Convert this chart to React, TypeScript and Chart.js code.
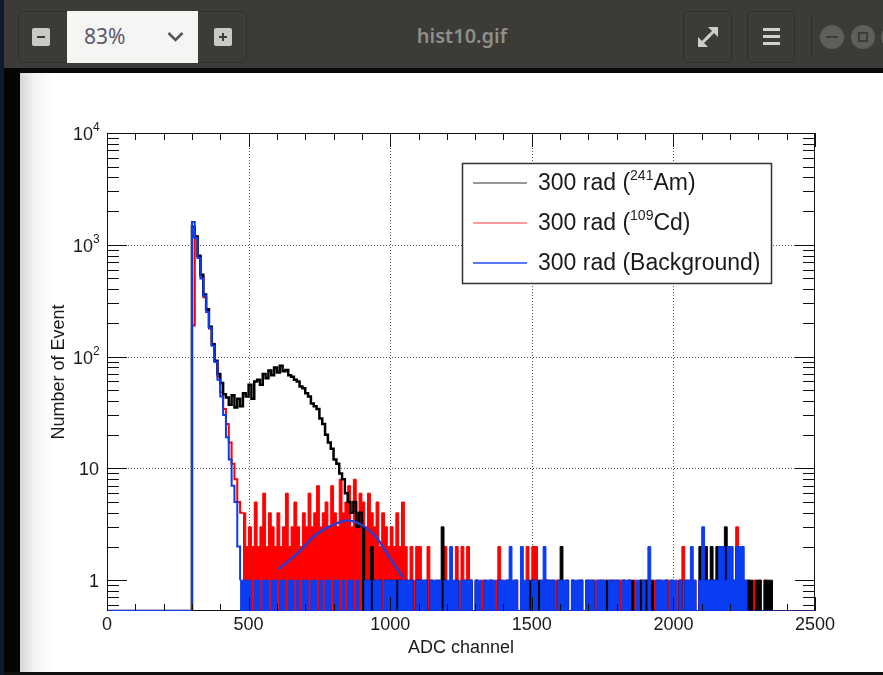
import React, { useEffect, useRef } from "react";
import { Chart, registerables } from "chart.js";

Chart.register(...registerables);

// ---------- axes ----------
const X_MIN = 0;
const X_MAX = 2500;
const Y_MIN = 0.53;
const Y_MAX = 10000;
const BIN_WIDTH = 10;

const X_TICKS = [0, 500, 1000, 1500, 2000, 2500];
const X_TICK_LABELS = ["0", "500", "1000", "1500", "2000", "2500"];
const X_GRID = [500, 1000, 1500, 2000];
const Y_DECADES = [1, 10, 100, 1000, 10000];
const Y_TICK_BASES = ["1", "10", "10", "10", "10"];
const Y_TICK_EXPONENTS = ["", "", "2", "3", "4"];
const Y_GRID = [10, 100, 1000];

const X_TITLE = "ADC channel";
const Y_TITLE = "Number of Event";
const LEGEND_PREFIX = "300 rad (";
const LEGEND_SUPERS = ["241", "109", ""];
const LEGEND_NAMES = ["Am)", "Cd)", "Background)"];

const COLOR_AM = "#000000";
const COLOR_CD = "#ff0000";
const COLOR_BG = "#0a3cf2";
const COLOR_FIT = "#2a3ccc";

// ---------- 300 rad (241Am) : 10-channel bins ----------
const AM_HEAD_START = 300;
const amHead = [
  1450, 1180, 800, 540, 360, 265, 185, 128, 92, 70,
  58, 46, 43, 37, 45, 35, 42, 36, 47, 44,
  56, 42, 60, 62, 56, 70, 64, 75, 68, 80,
  72, 83, 74, 76, 68, 66, 62, 60, 54, 52,
  47, 44, 38, 36, 34, 28, 25, 20, 17, 15,
  12, 11, 9, 8, 6, 5, 4, 5, 3, 4,
];
const AM_TAIL_START = 900;
const amTail = [
  3, 1, 0, 2, 1, 0, 1, 0, 1, 0,
  1, 0, 1, 1, 0, 1, 0, 1, 0, 1,
  1, 0, 1, 0, 1, 0, 0, 1, 3, 1,
  0, 1, 0, 1, 0, 0, 1, 0, 1, 0,
  1, 0, 0, 1, 0, 1, 0, 0, 1, 0,
  0, 1, 0, 0, 1, 0, 1, 0, 0, 1,
  1, 0, 1, 0, 0, 1, 0, 1, 0, 1,
  2, 0, 1, 0, 1, 0, 0, 1, 0, 1,
  0, 1, 0, 0, 1, 0, 1, 0, 1, 0,
  1, 0, 1, 0, 1, 1, 0, 0, 1, 1,
  1, 1, 1, 0, 1, 0, 0, 1, 0, 1,
  0, 0, 1, 0, 1, 0, 1, 0, 0, 2,
  2, 2, 1, 2, 1, 2, 1, 1, 3, 2,
  2, 1, 2, 0, 1, 0, 1, 1, 0, 1,
  1, 0, 1, 1, 1,
];

// ---------- 300 rad (109Cd) ----------
const CD_HEAD_START = 300;
const cdHead = [190, 1200, 780, 520, 340, 260, 178, 130, 90, 66, 48, 34, 25, 17, 11, 8, 5, 4];
const CD_TAIL_START = 480;
const cdTail = [
  4, 2,
  3, 2, 5, 2, 3, 6, 2, 4, 3, 2,
  4, 2, 3, 6, 2, 3, 5, 3, 2, 4,
  3, 6, 3, 4, 7, 3, 4, 5, 3, 7,
  4, 3, 8, 4, 5, 7, 3, 8, 4, 6,
  5, 3, 6, 4, 3, 5, 2, 4, 3, 2,
  3, 2, 4, 2, 5, 2, 1, 2, 1, 2,
  2, 1, 0, 2, 1, 0, 1, 0, 1, 2,
  0, 1, 0, 2, 1, 2, 0, 2, 1, 0,
  1, 0, 1, 0, 0, 1, 0, 1, 2, 1,
  0, 1, 1, 0, 1, 0, 1, 0, 2, 0,
  2, 2, 0, 1, 0, 1, 1, 0, 1, 0,
  1, 0, 1, 0, 1, 0, 1, 1, 0, 0,
  1, 0, 1, 1, 0, 1, 0, 1, 0, 1,
  0, 1, 1, 0, 1, 0, 1, 0, 1, 0,
  1, 0, 0, 1, 0, 1, 0, 1, 1, 0,
  0, 1, 1, 2, 0, 1, 0, 1, 0, 1,
  1, 1, 0, 1, 1, 0, 2, 1, 1, 1,
  1, 0, 3, 1, 0, 1, 1, 0, 1, 0,
  1, 0, 1, 0, 0,
];

// ---------- 300 rad (Background) ----------
const BG_HEAD_START = 300;
const bgHead = [1600, 1150, 760, 500, 350, 250, 180, 125, 90, 62, 44, 30, 19, 12, 7, 5, 2];
const BG_TAIL_START = 470;
const bgTail = [
  1, 1, 1,
  1, 0, 1, 1, 0, 1, 1, 0, 1, 1,
  0, 1, 1, 0, 1, 1, 0, 1, 0, 1,
  1, 0, 1, 1, 0, 1, 0, 1, 1, 0,
  1, 1, 0, 1, 0, 1, 1, 0, 1, 0,
  0, 1, 1, 0, 1, 1, 1, 0, 1, 1,
  1, 1, 0, 1, 1, 1, 1, 1, 0, 1,
  1, 1, 1, 0, 1, 1, 1, 1, 0, 1,
  1, 2, 1, 1, 0, 1, 1, 1, 1, 0,
  1, 1, 0, 1, 1, 1, 1, 0, 1, 1,
  1, 1, 2, 1, 1, 0, 2, 1, 1, 0,
  1, 1, 0, 1, 2, 1, 1, 1, 0, 1,
  1, 1, 1, 0, 1, 1, 1, 1, 0, 1,
  1, 1, 0, 1, 1, 1, 0, 1, 1, 1,
  1, 0, 1, 1, 1, 0, 0, 1, 0, 1,
  0, 2, 0, 0, 1, 1, 1, 1, 0, 1,
  1, 0, 1, 0, 1, 1, 2, 1, 0, 1,
  3, 1, 1, 1, 1, 1, 2, 2, 1, 2,
  2, 1, 2, 2, 2, 1, 0, 0, 0, 0,
  0, 0, 0, 0, 0,
];

// ---------- Gaussian fit on background ----------
const FIT_X = [605, 640, 681, 723, 764, 800, 846, 893, 952, 999, 1046];
const FIT_Y = [1.25, 1.48, 1.82, 2.37, 2.83, 3.14, 3.41, 3.18, 2.39, 1.58, 1.05];

const PLOT_FONT = "'Liberation Sans', Arial, Helvetica, sans-serif";

function floorValue(v: number) {
  return v <= 0 ? Y_MIN : v;
}

function stepPoints(start: number, values: number[], endValue: number, prefixZero: boolean, suffixZero: boolean) {
  const pts: { x: number; y: number }[] = [];
  if (prefixZero) pts.push({ x: X_MIN, y: Y_MIN });
  values.forEach((v, i) => pts.push({ x: start + i * BIN_WIDTH, y: floorValue(v) }));
  pts.push({ x: start + values.length * BIN_WIDTH, y: floorValue(endValue) });
  if (suffixZero) pts.push({ x: X_MAX, y: Y_MIN });
  return pts;
}

function histSet(label: string, color: string, data: any[], filled: boolean, order: number, width = 1) {
  return {
    type: "line" as const,
    label,
    data,
    stepped: true,
    borderColor: color,
    backgroundColor: color,
    borderWidth: width,
    pointRadius: 0,
    fill: filled ? "start" : false,
    order,
  };
}

const decorPlugin = {
  id: "decor",
  beforeDatasetsDraw(chart: any) {
    const { ctx, chartArea: a, scales } = chart;
    const x = scales.x;
    const y = scales.y;
    ctx.save();
    ctx.strokeStyle = "#555";
    ctx.lineWidth = 1;
    ctx.setLineDash([1, 2]);
    for (const v of X_GRID) {
      const px = Math.round(x.getPixelForValue(v)) + 0.5;
      ctx.beginPath();
      ctx.moveTo(px, a.top);
      ctx.lineTo(px, a.bottom);
      ctx.stroke();
    }
    for (const v of Y_GRID) {
      const py = Math.round(y.getPixelForValue(v)) + 0.5;
      ctx.beginPath();
      ctx.moveTo(a.left, py);
      ctx.lineTo(a.right, py);
      ctx.stroke();
    }
    ctx.setLineDash([]);
    ctx.strokeStyle = "#111";
    ctx.strokeRect(a.left + 0.5, a.top + 0.5, a.right - a.left - 1, a.bottom - a.top - 1);
    ctx.restore();
  },
  afterDatasetsDraw(chart: any) {
    const { ctx, chartArea: a, scales } = chart;
    const x = scales.x;
    const y = scales.y;
    ctx.save();
    ctx.strokeStyle = "#111";
    ctx.lineWidth = 1;
    const seg = (x0: number, y0: number, x1: number, y1: number) => {
      ctx.beginPath();
      ctx.moveTo(x0, y0);
      ctx.lineTo(x1, y1);
      ctx.stroke();
    };
    for (let v = X_MIN; v <= X_MAX; v += 100) {
      const px = Math.round(x.getPixelForValue(v)) + 0.5;
      const len = v % 500 === 0 ? 14 : 7;
      seg(px, a.bottom, px, a.bottom - len);
      seg(px, a.top, px, a.top + len);
    }
    for (let e = -1; e < 4; e++) {
      for (let m = 1; m <= 9; m++) {
        const v = m * Math.pow(10, e);
        if (v < Y_MIN || v > Y_MAX) continue;
        const py = Math.round(y.getPixelForValue(v)) + 0.5;
        const len = m === 1 ? 20 : 12;
        seg(a.left, py, a.left + len, py);
        seg(a.right, py, a.right - len, py);
      }
    }

    ctx.fillStyle = "#1a1a1a";
    // x tick labels
    ctx.font = `18px ${PLOT_FONT}`;
    ctx.textAlign = "center";
    ctx.textBaseline = "middle";
    X_TICKS.forEach((v, i) => {
      ctx.fillText(X_TICK_LABELS[i], x.getPixelForValue(v), a.bottom + 14);
    });

    // y tick labels with superscripts
    Y_DECADES.forEach((v, i) => {
      const py = y.getPixelForValue(v) + 2;
      const exp = Y_TICK_EXPONENTS[i];
      ctx.font = `18px ${PLOT_FONT}`;
      if (exp) {
        ctx.textAlign = "right";
        ctx.fillText(Y_TICK_BASES[i], a.left - 14, py);
        ctx.font = `12px ${PLOT_FONT}`;
        ctx.textAlign = "left";
        ctx.fillText(exp, a.left - 14, py - 7);
      } else {
        ctx.textAlign = "right";
        ctx.fillText(Y_TICK_BASES[i], a.left - 8, py);
      }
    });

    // axis titles
    ctx.font = `18px ${PLOT_FONT}`;
    ctx.textAlign = "center";
    ctx.textBaseline = "middle";
    ctx.fillText(X_TITLE, (a.left + a.right) / 2, a.bottom + 37);
    ctx.save();
    ctx.translate(a.left - 48, (a.top + a.bottom) / 2);
    ctx.rotate(-Math.PI / 2);
    ctx.fillText(Y_TITLE, 0, 0);
    ctx.restore();

    // legend
    const lx0 = a.left + 355;
    const ly0 = a.top + 30;
    const lw = 309;
    const lh = 120;
    ctx.fillStyle = "#ffffff";
    ctx.fillRect(lx0, ly0, lw, lh);
    ctx.strokeStyle = "#333";
    ctx.lineWidth = 1.5;
    ctx.strokeRect(lx0 + 0.5, ly0 + 0.5, lw, lh);
    const legendColors = ["#333333", "#ff3333", "#5b78f5"];
    const legendWidths = [1.2, 1.2, 2];
    for (let i = 0; i < 3; i++) {
      const ry = ly0 + 20 + i * 40;
      ctx.strokeStyle = legendColors[i];
      ctx.lineWidth = legendWidths[i];
      seg(lx0 + 11, ry, lx0 + 65, ry);
      ctx.fillStyle = "#1a1a1a";
      ctx.textAlign = "left";
      ctx.textBaseline = "middle";
      ctx.font = `23px ${PLOT_FONT}`;
      let tx = lx0 + 76;
      ctx.fillText(LEGEND_PREFIX, tx, ry + 1);
      tx += ctx.measureText(LEGEND_PREFIX).width;
      if (LEGEND_SUPERS[i]) {
        ctx.font = `14px ${PLOT_FONT}`;
        ctx.fillText(LEGEND_SUPERS[i], tx, ry - 7);
        tx += ctx.measureText(LEGEND_SUPERS[i]).width;
        ctx.font = `23px ${PLOT_FONT}`;
      }
      ctx.fillText(LEGEND_NAMES[i], tx, ry + 1);
    }
    ctx.restore();
  },
};

export default function App() {
  const ref = useRef<HTMLCanvasElement | null>(null);

  useEffect(() => {
    document.body.style.margin = "0";
    const canvas = ref.current;
    if (!canvas) return;

    const datasets: any[] = [
      {
        type: "line",
        label: "fit",
        data: FIT_X.map((v, i) => ({ x: v, y: FIT_Y[i] })),
        borderColor: COLOR_FIT,
        borderWidth: 2.5,
        pointRadius: 0,
        tension: 0.4,
        cubicInterpolationMode: "monotone",
        fill: false,
        order: -1,
      },
      histSet("bg head", COLOR_BG, stepPoints(BG_HEAD_START, bgHead, bgTail[0], true, false), false, 0, 2),
      histSet("bg tail", COLOR_BG, stepPoints(BG_TAIL_START, bgTail, 0, false, true), true, 0),
      histSet("am head", COLOR_AM, stepPoints(AM_HEAD_START, amHead, amTail[0], true, false), false, 1, 2.5),
      histSet("am tail", COLOR_AM, stepPoints(AM_TAIL_START, amTail, 0, false, true), true, 1),
      histSet("cd head", COLOR_CD, stepPoints(CD_HEAD_START, cdHead, cdTail[0], true, false), false, 2, 2),
      histSet("cd tail", COLOR_CD, stepPoints(CD_TAIL_START, cdTail, 0, false, true), true, 2),
    ];

    const chart = new Chart(canvas, {
      type: "line",
      data: { datasets },
      options: {
        responsive: false,
        maintainAspectRatio: false,
        animation: false,
        events: [],
        layout: { padding: { left: 0, top: 133, right: 68, bottom: 0 } },
        plugins: { legend: { display: false }, tooltip: { enabled: false } },
        scales: {
          x: {
            type: "linear",
            min: X_MIN,
            max: X_MAX,
            grid: { display: false },
            border: { display: false },
            afterBuildTicks: (s: any) => {
              s.ticks = X_TICKS.map((v) => ({ value: v }));
            },
            afterFit: (s: any) => {
              s.height = 64;
            },
            ticks: { display: false },
          },
          y: {
            type: "logarithmic",
            min: Y_MIN,
            max: Y_MAX,
            grid: { display: false },
            border: { display: false },
            afterBuildTicks: (s: any) => {
              s.ticks = Y_DECADES.map((v) => ({ value: v }));
            },
            afterFit: (s: any) => {
              s.width = 107;
            },
            ticks: { display: false },
          },
        },
      },
      plugins: [decorPlugin],
    } as any);

    return () => chart.destroy();
  }, []);

  const box = (left: number, width: number) => ({
    position: "absolute" as const,
    left,
    top: 11,
    width,
    height: 52,
    border: "1px solid #302f2b",
    borderRadius: 5,
    boxSizing: "border-box" as const,
  });

  return (
    <div
      style={{
        position: "fixed",
        left: 0,
        top: 0,
        width: 883,
        height: 675,
        overflow: "hidden",
        background: "#ffffff",
        fontFamily: "'Noto Sans', sans-serif",
      }}
    >
      {/* header bar */}
      <div style={{ position: "absolute", left: 0, top: 0, width: 883, height: 68, background: "#3c3b37" }} />
      <div style={{ position: "absolute", left: 0, top: 68, width: 883, height: 5, background: "#0a0a0a" }} />
      <div style={{ position: "absolute", left: 0, top: 0, width: 4, height: 675, background: "#0f1b2d" }} />
      <div style={{ position: "absolute", left: 4, top: 68, width: 16, height: 607, background: "#050505" }} />
      <div
        style={{
          position: "absolute",
          left: 20,
          top: 73,
          width: 863,
          height: 599,
          background: "linear-gradient(to right, #d6d6d6 0px, #f2f2f2 14px, #ffffff 32px)",
        }}
      />
      <div style={{ position: "absolute", left: 4, top: 672, width: 879, height: 3, background: "#111" }} />

      {/* zoom group */}
      <div style={box(18, 229)} />
      <div style={{ position: "absolute", left: 32, top: 28, width: 18, height: 18, background: "#cac9c4", borderRadius: 2 }}>
        <div style={{ position: "absolute", left: 5, top: 8, width: 8, height: 2, background: "#3c3b37" }} />
      </div>
      <div style={{ position: "absolute", left: 67, top: 11, width: 131, height: 52, background: "#f5f5f4" }}>
        <span
          style={{
            position: "absolute",
            left: 17,
            top: 10,
            fontSize: 21,
            lineHeight: "30px",
            color: "#5a5a68",
          }}
        >
          83%
        </span>
        <svg style={{ position: "absolute", left: 100, top: 20 }} width={17} height={12}>
          <polyline points="1.5,2 8.5,9 15.5,2" fill="none" stroke="#555" strokeWidth={2.5} />
        </svg>
      </div>
      <div style={{ position: "absolute", left: 214, top: 28, width: 18, height: 18, background: "#cac9c4", borderRadius: 2 }}>
        <div style={{ position: "absolute", left: 5, top: 8, width: 8, height: 2, background: "#3c3b37" }} />
        <div style={{ position: "absolute", left: 8, top: 5, width: 2, height: 8, background: "#3c3b37" }} />
      </div>

      {/* title */}
      <div
        style={{
          position: "absolute",
          left: 362,
          top: 22,
          width: 200,
          textAlign: "center",
          color: "#8f8e89",
          fontSize: 20,
          fontWeight: 600,
          lineHeight: "28px",
        }}
      >
        hist10.gif
      </div>

      {/* expand button */}
      <div style={box(683, 49)} />
      <svg style={{ position: "absolute", left: 695, top: 24 }} width={26} height={26}>
        <line x1={11} y1={15} x2={19} y2={7} stroke="#cfcdc8" strokeWidth={3} />
        <polygon points="13,3 23,3 23,13" fill="#cfcdc8" />
        <line x1={15} y1={11} x2={7} y2={19} stroke="#cfcdc8" strokeWidth={3} />
        <polygon points="3,13 3,23 13,23" fill="#cfcdc8" />
      </svg>

      {/* menu button */}
      <div style={box(747, 48)} />
      {[28, 35, 42].map((t) => (
        <div key={t} style={{ position: "absolute", left: 763, top: t, width: 17, height: 3, background: "#d3d1cc" }} />
      ))}

      <div style={{ position: "absolute", left: 811, top: 15, width: 1, height: 43, background: "#2f2e2a" }} />

      {/* window controls */}
      <div style={{ position: "absolute", left: 820, top: 25, width: 24, height: 24, borderRadius: "50%", background: "#5f5e59" }}>
        <div style={{ position: "absolute", left: 6, top: 11, width: 12, height: 2, background: "#3c3b37" }} />
      </div>
      <div style={{ position: "absolute", left: 851, top: 25, width: 24, height: 24, borderRadius: "50%", background: "#5f5e59" }}>
        <div
          style={{
            position: "absolute",
            left: 7,
            top: 7,
            width: 10,
            height: 10,
            border: "2px solid #3c3b37",
            boxSizing: "border-box",
          }}
        />
      </div>
      <div style={{ position: "absolute", left: 881, top: 25, width: 24, height: 24, borderRadius: "50%", background: "#5f5e59" }} />

      <canvas ref={ref} width={883} height={675} style={{ position: "absolute", left: 0, top: 0 }} />
    </div>
  );
}
